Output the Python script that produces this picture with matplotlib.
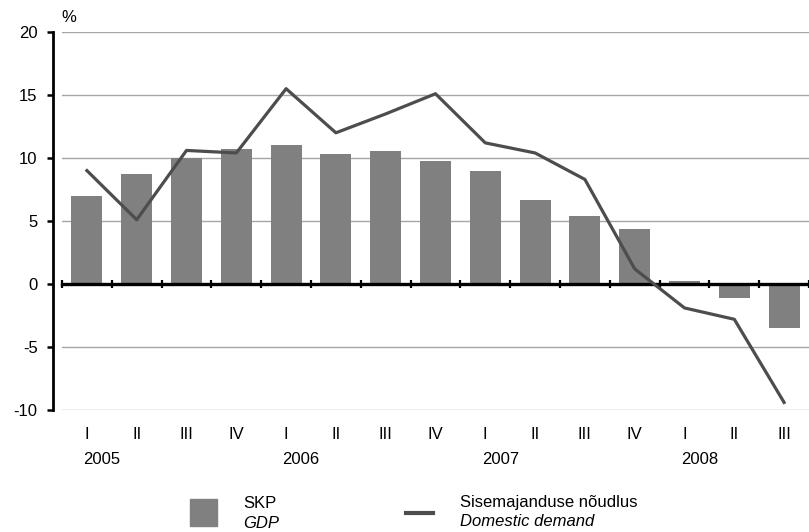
import matplotlib
matplotlib.use('Agg')
from matplotlib import pyplot as plt
from matplotlib.patches import Rectangle
from matplotlib.lines import Line2D
import matplotlib.transforms as mtransforms

plt.rcParams['font.family'] = ['Liberation Sans', 'DejaVu Sans']
plt.rcParams['font.size'] = 12
plt.rcParams['axes.unicode_minus'] = False

# quarters and years
quarters = ['I', 'II', 'III', 'IV', 'I', 'II', 'III', 'IV',
            'I', 'II', 'III', 'IV', 'I', 'II', 'III']
years = ['2005', '2006', '2007', '2008']
year_start = [0, 4, 8, 12]

# SKP / GDP growth, %
gdp = [7.0, 8.7, 10.0, 10.7, 11.0, 10.3, 10.55, 9.8,
       9.0, 6.7, 5.4, 4.4, 0.2, -1.15, -3.5]
# Sisemajanduse noudlus / domestic demand growth, %
demand = [9.0, 5.1, 10.6, 10.4, 15.5, 12.0, 13.5, 15.1,
          11.2, 10.4, 8.3, 1.2, -1.9, -2.8, -9.4]

W, H = 809, 532
fig = plt.figure(figsize=(W / 100, H / 100), dpi=100)
ax = fig.add_axes([62 / W, 122 / H, 747 / W, 378 / H])

x = list(range(len(quarters)))
ax.bar(x, gdp, width=0.62, color='#808080', zorder=2)
ax.plot(x, demand, color='#4d4d4d', lw=2.3, zorder=3)

ax.set_xlim(-0.5, 14.35)
ax.set_ylim(-10, 20)
ax.set_yticks(range(-10, 21, 5))
ax.yaxis.grid(True, color='#a6a6a6', lw=1)
ax.set_axisbelow(True)

# axes styling
ax.spines['top'].set_visible(False)
ax.spines['right'].set_visible(False)
ax.spines['left'].set_position(('outward', 6.5))
ax.spines['left'].set_linewidth(2)
ax.spines['bottom'].set_position(('data', 0))
ax.spines['bottom'].set_linewidth(2.4)
ax.spines['bottom'].set_zorder(2.5)

ax.tick_params(axis='y', length=4, width=1.8, pad=7, labelsize=12)
ax.set_xticks([i - 0.5 for i in range(len(quarters) + 1)])
ax.tick_params(axis='x', direction='inout', length=5.5, width=1.6,
               labelbottom=False)

trans = mtransforms.blended_transform_factory(ax.transData, ax.transAxes)
for i, q in enumerate(quarters):
    ax.text(i, -0.0635, q, transform=trans, ha='center', va='center')
for s, yr in zip(year_start, years):
    ax.text(s + 0.3, -0.132, yr, transform=trans, ha='center', va='center')

fig.text(61 / W, (H - 18) / H, '%', ha='left', va='center')

# legend
fig.add_artist(Rectangle((190 / W, 6 / H), 27 / W, 27 / H,
                         transform=fig.transFigure, color='#808080'))
fig.text(243 / W, (H - 503) / H, 'SKP', va='center')
fig.text(243 / W, (H - 523) / H, 'GDP', va='center', style='italic')
fig.add_artist(Line2D([406 / W, 433 / W], [(H - 513) / H] * 2,
                      transform=fig.transFigure, color='#4d4d4d', lw=3))
fig.text(460 / W, (H - 502) / H, 'Sisemajanduse nõudlus', va='center')
fig.text(460 / W, (H - 522) / H, 'Domestic demand', va='center',
         style='italic')

fig.savefig('out.png', dpi=100)
